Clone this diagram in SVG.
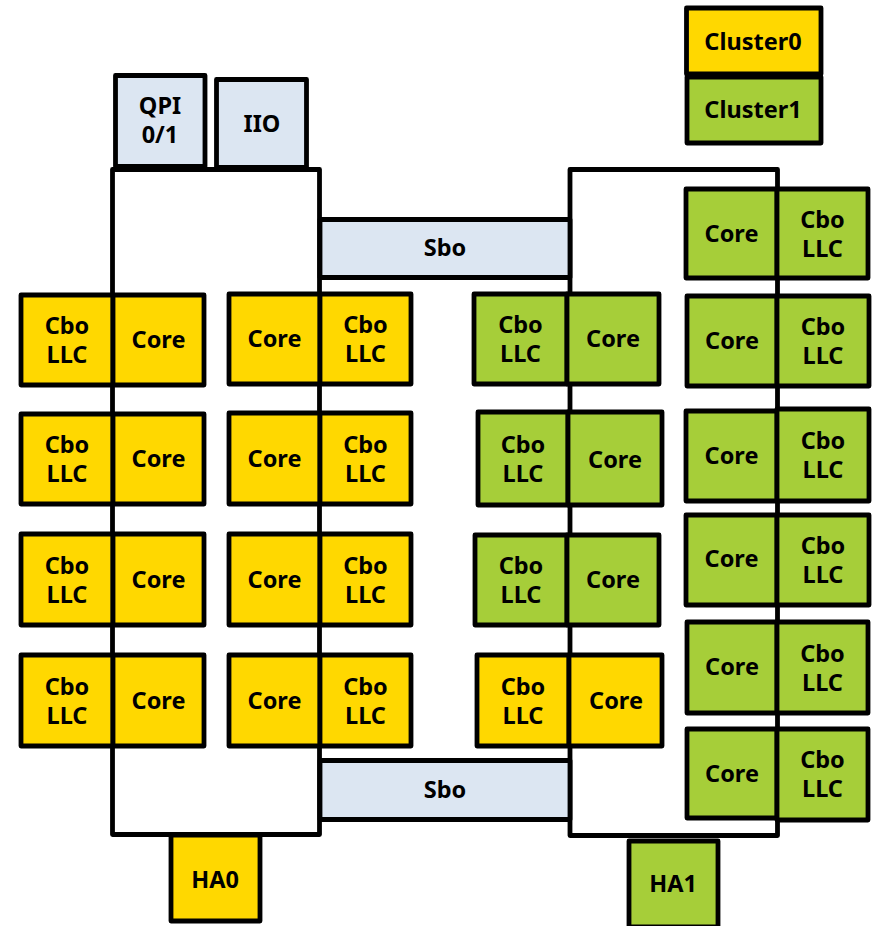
<svg xmlns="http://www.w3.org/2000/svg" width="873" height="926" viewBox="0 0 873 926">
<style>
rect{stroke:#000;stroke-width:4.8;stroke-linejoin:round}
.y{fill:#FFD800}
.g{fill:#A6CE39}
.b{fill:#DCE6F2}
.w{fill:#FFFFFF}
text{font-family:"Noto Sans","Open Sans","DejaVu Sans",sans-serif;font-weight:bold;font-size:23.5px;fill:#000;text-anchor:middle}
</style>
<rect x="0" y="0" width="873" height="926" style="fill:#fff;stroke:none"/>
<g id="connectors">
<rect class="w" x="112.5" y="169.5" width="207" height="665"/>
<rect class="w" x="570" y="169.5" width="207.5" height="666"/>
</g>
<g id="sbo_top"><rect class="b" x="320" y="219.5" width="250" height="58"/><text x="445" y="256">Sbo</text></g>
<g id="sbo_bottom"><rect class="b" x="320" y="760.5" width="250" height="59"/><text x="445" y="798">Sbo</text></g>
<g id="qpi"><rect class="b" x="115.5" y="75.5" width="89.5" height="91"/><text x="160" y="114">QPI</text><text x="160" y="143">0/1</text></g>
<g id="iio"><rect class="b" x="216.5" y="79.5" width="90" height="88"/><text x="262" y="132">IIO</text></g>
<g id="ha0"><rect class="y" x="171" y="835" width="89" height="86"/><text x="215" y="888">HA0</text></g>
<g id="ha1"><rect class="g" x="629" y="841" width="89" height="86"/><text x="673" y="892">HA1</text></g>
<g id="cluster0"><rect class="y" x="686.5" y="8" width="134.5" height="66"/><text x="753" y="50">Cluster0</text></g>
<g id="cluster1"><rect class="g" x="687" y="77" width="134" height="66"/><text x="753" y="118">Cluster1</text></g>

<g id="l1"><rect class="y" x="21" y="295" width="92" height="90"/><rect class="y" x="113" y="295" width="91" height="90"/><text x="67" y="334">Cbo<tspan x="67" y="363">LLC</tspan></text><text x="158.5" y="348">Core</text></g>
<g id="l2"><rect class="y" x="21" y="414" width="92" height="90"/><rect class="y" x="113" y="414" width="91" height="90"/><text x="67" y="453">Cbo<tspan x="67" y="482">LLC</tspan></text><text x="158.5" y="467">Core</text></g>
<g id="l3"><rect class="y" x="21" y="534" width="92" height="91"/><rect class="y" x="113" y="534" width="91" height="91"/><text x="67" y="573.5">Cbo<tspan x="67" y="602.5">LLC</tspan></text><text x="158.5" y="587.5">Core</text></g>
<g id="l4"><rect class="y" x="21" y="655" width="92" height="91"/><rect class="y" x="113" y="655" width="91" height="91"/><text x="67" y="694.5">Cbo<tspan x="67" y="723.5">LLC</tspan></text><text x="158.5" y="708.5">Core</text></g>

<g id="m1"><rect class="y" x="229" y="294" width="91" height="90"/><rect class="y" x="320" y="294" width="91" height="90"/><text x="274.5" y="347">Core</text><text x="365.5" y="333">Cbo<tspan x="365.5" y="362">LLC</tspan></text></g>
<g id="m2"><rect class="y" x="229" y="413" width="91" height="91"/><rect class="y" x="320" y="413" width="91" height="91"/><text x="274.5" y="466.5">Core</text><text x="365.5" y="452.5">Cbo<tspan x="365.5" y="481.5">LLC</tspan></text></g>
<g id="m3"><rect class="y" x="229" y="534" width="91" height="91"/><rect class="y" x="320" y="534" width="91" height="91"/><text x="274.5" y="587.5">Core</text><text x="365.5" y="573.5">Cbo<tspan x="365.5" y="602.5">LLC</tspan></text></g>
<g id="m4"><rect class="y" x="229" y="655" width="91" height="91"/><rect class="y" x="320" y="655" width="91" height="91"/><text x="274.5" y="708.5">Core</text><text x="365.5" y="694.5">Cbo<tspan x="365.5" y="723.5">LLC</tspan></text></g>

<g id="n1"><rect class="g" x="474" y="294" width="93" height="90"/><rect class="g" x="567" y="294" width="92" height="90"/><text x="520.5" y="333">Cbo<tspan x="520.5" y="362">LLC</tspan></text><text x="613" y="347">Core</text></g>
<g id="n2"><rect class="g" x="478" y="412" width="90" height="93"/><rect class="g" x="568" y="412" width="94" height="93"/><text x="523" y="452.5">Cbo<tspan x="523" y="481.5">LLC</tspan></text><text x="615" y="468">Core</text></g>
<g id="n3"><rect class="g" x="475" y="535" width="92" height="90"/><rect class="g" x="567" y="535" width="92" height="90"/><text x="521" y="574">Cbo<tspan x="521" y="603">LLC</tspan></text><text x="613" y="588">Core</text></g>
<g id="n4"><rect class="y" x="477" y="655" width="92" height="91"/><rect class="y" x="569" y="655" width="93" height="91"/><text x="523" y="694.5">Cbo<tspan x="523" y="723.5">LLC</tspan></text><text x="616" y="709">Core</text></g>

<g id="r1"><rect class="g" x="686" y="189" width="91" height="89"/><rect class="g" x="777" y="189" width="91" height="89"/><text x="731.5" y="241.5">Core</text><text x="822.5" y="227.5">Cbo<tspan x="822.5" y="256.5">LLC</tspan></text></g>
<g id="r2"><rect class="g" x="687" y="296" width="90" height="90"/><rect class="g" x="777" y="296" width="92" height="90"/><text x="732" y="349">Core</text><text x="823" y="335">Cbo<tspan x="823" y="364">LLC</tspan></text></g>
<g id="r3"><rect class="g" x="686" y="411" width="91" height="90"/><rect class="g" x="777" y="409" width="92" height="92"/><text x="731.5" y="464">Core</text><text x="823" y="449">Cbo<tspan x="823" y="478">LLC</tspan></text></g>
<g id="r4"><rect class="g" x="686" y="515" width="91" height="90"/><rect class="g" x="777" y="515" width="92" height="90"/><text x="731.5" y="567">Core</text><text x="823" y="554">Cbo<tspan x="823" y="583">LLC</tspan></text></g>
<g id="r5"><rect class="g" x="687" y="622" width="90" height="91"/><rect class="g" x="777" y="622" width="91" height="91"/><text x="732" y="675">Core</text><text x="822.5" y="661.5">Cbo<tspan x="822.5" y="690.5">LLC</tspan></text></g>
<g id="r6"><rect class="g" x="687" y="729" width="90" height="89"/><rect class="g" x="777" y="729" width="91" height="91"/><text x="732" y="782">Core</text><text x="822.5" y="767.5">Cbo<tspan x="822.5" y="796.5">LLC</tspan></text></g>
</svg>
